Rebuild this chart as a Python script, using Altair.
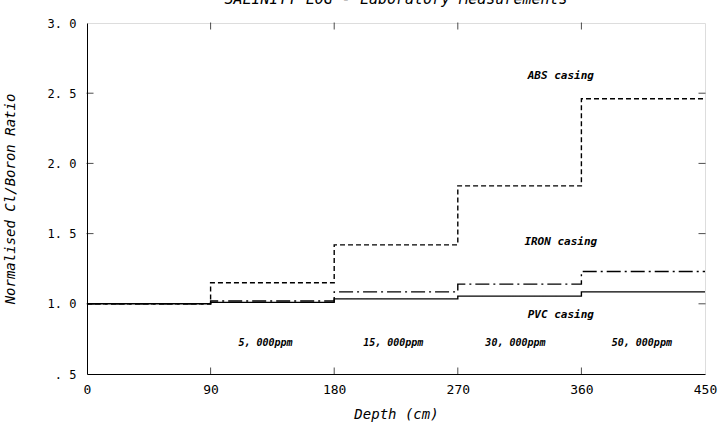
import altair as alt
import pandas as pd

# Step boundaries (cm) and normalised Cl/Boron ratio per interval
depth = [0, 90, 180, 270, 360, 450]
abs_vals = [1.00, 1.15, 1.42, 1.84, 2.46]
iron_vals = [1.00, 1.02, 1.085, 1.14, 1.23]
pvc_vals = [1.00, 1.01, 1.035, 1.055, 1.085]

series_names = ["ABS casing", "IRON casing", "PVC casing"]
series_vals = [abs_vals, iron_vals, pvc_vals]

# annotation texts
case_labels = ["ABS casing", "IRON casing", "PVC casing"]
case_x = [345, 345, 345]
case_y = [2.62, 1.44, 0.92]
ppm_labels = ["5, 000ppm", "15, 000ppm", "30, 000ppm", "50, 000ppm"]
ppm_x = [130, 223, 312, 404]
ppm_y = [0.72, 0.72, 0.72, 0.72]

x_ticks = [0, 90, 180, 270, 360, 450]
y_ticks = [0.5, 1.0, 1.5, 2.0, 2.5, 3.0]

rows = []
for name, vals in zip(series_names, series_vals):
    for i, d in enumerate(depth):
        v = vals[i] if i < len(vals) else vals[-1]
        rows.append({"series": name, "depth": d, "ratio": v})
df = pd.DataFrame(rows)

W, H = 618, 351
FONT = "DejaVu Sans Mono"

xs = alt.Scale(domain=[0, 450], nice=False, zero=False)
ys = alt.Scale(domain=[0.5, 3.0], nice=False, zero=False)

lines = alt.Chart(df).mark_line(interpolate="step-after", color="black", strokeWidth=1.4).encode(
    x=alt.X("depth:Q", scale=xs,
            axis=alt.Axis(values=x_ticks, title="Depth (cm)", ticks=False, domain=True,
                          domainColor="black", grid=False, labelFont=FONT, labelFontSize=13,
                          labelColor="black", labelPadding=9, labelFlush=False,
                          titleFont=FONT, titleFontSize=14, titleFontStyle="italic",
                          titleFontWeight="normal", titleColor="black", titlePadding=11)),
    y=alt.Y("ratio:Q", scale=ys,
            axis=alt.Axis(values=y_ticks, title="Normalised Cl/Boron Ratio", ticks=False,
                          domainColor="black", grid=False, labelFont=FONT, labelFontSize=12,
                          labelColor="black", labelPadding=11,
                          labelExpr="datum.value == 0.5 ? '. 5' : replace(format(datum.value, '.1f'), '.', '. ')",
                          titleFont=FONT, titleFontSize=14, titleFontStyle="italic",
                          titleFontWeight="normal", titleColor="black", titlePadding=30)),
    strokeDash=alt.StrokeDash("series:N",
                              scale=alt.Scale(domain=series_names,
                                              range=[[5, 3], [14, 4, 2, 4], [1, 0]]),
                              legend=None),
    detail="series:N",
)

case_df = pd.DataFrame({"label": case_labels, "x": case_x, "y": case_y})
ppm_df = pd.DataFrame({"label": ppm_labels, "x": ppm_x, "y": ppm_y})

case_text = alt.Chart(case_df).mark_text(font=FONT, fontSize=11, fontStyle="italic",
                                         fontWeight="bold", color="black").encode(
    x=alt.X("x:Q", scale=xs), y=alt.Y("y:Q", scale=ys), text="label:N")
ppm_text = alt.Chart(ppm_df).mark_text(font=FONT, fontSize=10, fontStyle="italic",
                                       fontWeight="bold", color="black").encode(
    x=alt.X("x:Q", scale=xs), y=alt.Y("y:Q", scale=ys), text="label:N")

xt_df = pd.DataFrame({"v": x_ticks[1:-1]})
yt_df = pd.DataFrame({"v": y_ticks[1:-1]})
bottom_ticks = alt.Chart(xt_df).mark_tick(orient="vertical", size=7, thickness=1, color="black").encode(
    x=alt.X("v:Q", scale=xs), y=alt.value(H - 3))
top_ticks = alt.Chart(xt_df).mark_tick(orient="vertical", size=7, thickness=1, color="black").encode(
    x=alt.X("v:Q", scale=xs), y=alt.value(3))
left_ticks = alt.Chart(yt_df).mark_tick(orient="horizontal", size=7, thickness=1, color="black").encode(
    y=alt.Y("v:Q", scale=ys), x=alt.value(3))
right_ticks = alt.Chart(yt_df).mark_tick(orient="horizontal", size=7, thickness=1, color="black").encode(
    y=alt.Y("v:Q", scale=ys), x=alt.value(W - 3))

chart = alt.layer(lines, case_text, ppm_text, bottom_ticks, top_ticks, left_ticks, right_ticks).properties(
    width=W, height=H,
    title=alt.TitleParams("SALINITY LOG - Laboratory Measurements", font=FONT, fontSize=15,
                          fontStyle="italic", fontWeight="normal", color="black",
                          anchor="middle", offset=10),
    autosize=alt.AutoSizeParams(type="none"),
    padding={"left": 87, "top": 23, "right": 13, "bottom": 57},
).configure_view(stroke="black", strokeWidth=1).configure(background="white")

chart.save("out.html", embed_options={"renderer": "svg", "actions": False})
